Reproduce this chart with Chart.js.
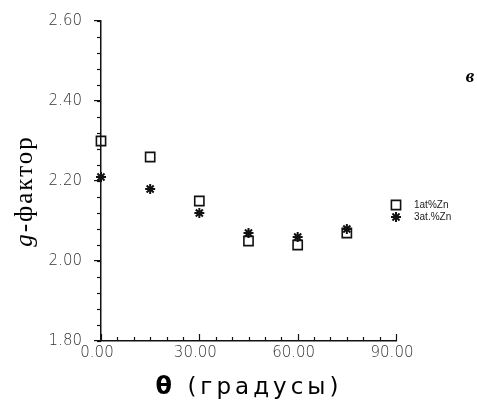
<!DOCTYPE html>
<html>
<head>
<meta charset="utf-8">
<script src="https://cdn.jsdelivr.net/npm/chart.js@4.4.1/dist/chart.umd.min.js"></script>
<style>
html, body { margin: 0; padding: 0; background: #fff; }
</style>
</head>
<body>
<canvas id="gChart" width="477" height="417"></canvas>
<script>
// угол (градусы) и g-фактор для двух концентраций
const angles = [0, 15, 30, 45, 60, 75, 90];
const g1at = [2.30, 2.26, 2.15, 2.05, 2.04, 2.07, 2.14];
const g3at = [2.21, 2.18, 2.12, 2.07, 2.06, 2.08, 2.11];
const seriesNames = ['1at%Zn', '3at.%Zn'];
const yTicks = [1.8, 2.0, 2.2, 2.4, 2.6];
const xTicks = [0, 30, 60, 90];

const ink = '#111';

const extras = {
    id: 'extras',
    afterDraw(chart) {
        const ctx = chart.ctx;
        const xs = chart.scales.x, ys = chart.scales.y;
        const area = chart.chartArea;
        ctx.save();
        ctx.strokeStyle = ink;
        ctx.lineWidth = 1.2;

        // мелкие деления по y (влево)
        for (let i = 0; i <= 20; i++) {
            const y = Math.round(ys.getPixelForValue(1.8 + i * 0.04)) + 0.5;
            ctx.beginPath();
            ctx.moveTo(area.left - 4, y);
            ctx.lineTo(area.left, y);
            ctx.stroke();
        }
        // деления по x (вверх)
        for (let i = 0; i <= 18; i++) {
            const x = Math.round(xs.getPixelForValue(i * 5)) + 0.5;
            const len = i % 6 === 0 ? 7 : 4;
            ctx.beginPath();
            ctx.moveTo(x, area.bottom);
            ctx.lineTo(x, area.bottom - len);
            ctx.stroke();
        }

        // подписи у последних точек
        ctx.fillStyle = '#222';
        ctx.font = '10px "Liberation Sans"';
        ctx.textBaseline = 'middle';
        ctx.textAlign = 'left';
        chart.data.datasets.forEach((ds, i) => {
            const pts = chart.getDatasetMeta(i).data;
            const p = pts[pts.length - 1];
            ctx.fillText(ds.label, p.x + 18, p.y);
        });

        // буква панели
        ctx.font = 'italic bold 19px "Liberation Serif"';
        ctx.textAlign = 'center';
        ctx.fillStyle = '#000';
        ctx.fillText('в', 470, 77);

        // подпись оси y
        ctx.save();
        ctx.translate(25, 191);
        ctx.rotate(-Math.PI / 2);
        ctx.letterSpacing = '2px';
        ctx.font = 'italic 25px "Liberation Serif"';
        const wG = ctx.measureText('g').width;
        ctx.font = '25px "Liberation Serif"';
        const wRest = ctx.measureText('-фактор').width;
        const start = -(wG + wRest) / 2;
        ctx.textAlign = 'left';
        ctx.font = 'italic 25px "Liberation Serif"';
        ctx.fillText('g', start, 0);
        ctx.font = '25px "Liberation Serif"';
        ctx.fillText('-фактор', start + wG, 0);
        ctx.restore();

        // подпись оси x
        ctx.letterSpacing = '4px';
        ctx.textAlign = 'left';
        ctx.font = 'bold 24px "DejaVu Sans"';
        const wT = ctx.measureText('θ').width;
        ctx.font = '23px "DejaVu Sans"';
        const wR = ctx.measureText(' (градусы)').width;
        const sx = 249 - (wT + wR) / 2;
        ctx.font = 'bold 24px "DejaVu Sans"';
        ctx.fillText('θ', sx, 388);
        ctx.font = '23px "DejaVu Sans"';
        ctx.fillText(' (градусы)', sx + wT, 388);

        ctx.restore();
    }
};

const ctx = document.getElementById('gChart').getContext('2d');
const gChart = new Chart(ctx, {
    type: 'scatter',
    data: {
        datasets: [
            {
                label: seriesNames[0],
                data: angles.map((a, i) => ({ x: a, y: g1at[i] })),
                pointStyle: 'rect',
                pointRadius: 6.5,
                pointHoverRadius: 6.5,
                borderColor: ink,
                backgroundColor: 'rgba(0,0,0,0)',
                borderWidth: 1.6,
                clip: false
            },
            {
                label: seriesNames[1],
                data: angles.map((a, i) => ({ x: a, y: g3at[i] })),
                pointStyle: 'star',
                pointRadius: 5,
                pointHoverRadius: 5,
                borderColor: ink,
                backgroundColor: ink,
                borderWidth: 2,
                clip: false
            }
        ]
    },
    options: {
        responsive: false,
        animation: false,
        events: [],
        layout: {
            autoPadding: false,
            padding: { left: 0, top: 21, right: 81, bottom: 0 }
        },
        plugins: {
            legend: { display: false },
            tooltip: { enabled: false }
        },
        scales: {
            x: {
                type: 'linear',
                min: 0,
                max: 90,
                afterFit(s) { s.height = 76; },
                afterBuildTicks(s) { s.ticks = xTicks.map(v => ({ value: v })); },
                border: { color: ink, width: 1.5 },
                grid: { drawOnChartArea: false, drawTicks: false },
                ticks: {
                    padding: 3,
                    labelOffset: -4,
                    maxRotation: 0,
                    color: '#333',
                    font: { family: 'DejaVu Sans', size: 15, weight: 300 },
                    callback: v => Number(v).toFixed(2)
                }
            },
            y: {
                min: 1.8,
                max: 2.6,
                afterFit(s) { s.width = 101; },
                afterBuildTicks(s) { s.ticks = yTicks.map(v => ({ value: v })); },
                border: { color: ink, width: 1.5 },
                grid: { drawOnChartArea: false, tickLength: 7, color: ink, lineWidth: 1.2 },
                ticks: {
                    padding: 12,
                    color: '#333',
                    font: { family: 'DejaVu Sans', size: 15, weight: 300 },
                    callback: v => Number(v).toFixed(2)
                }
            }
        }
    },
    plugins: [extras]
});
</script>
</body>
</html>
